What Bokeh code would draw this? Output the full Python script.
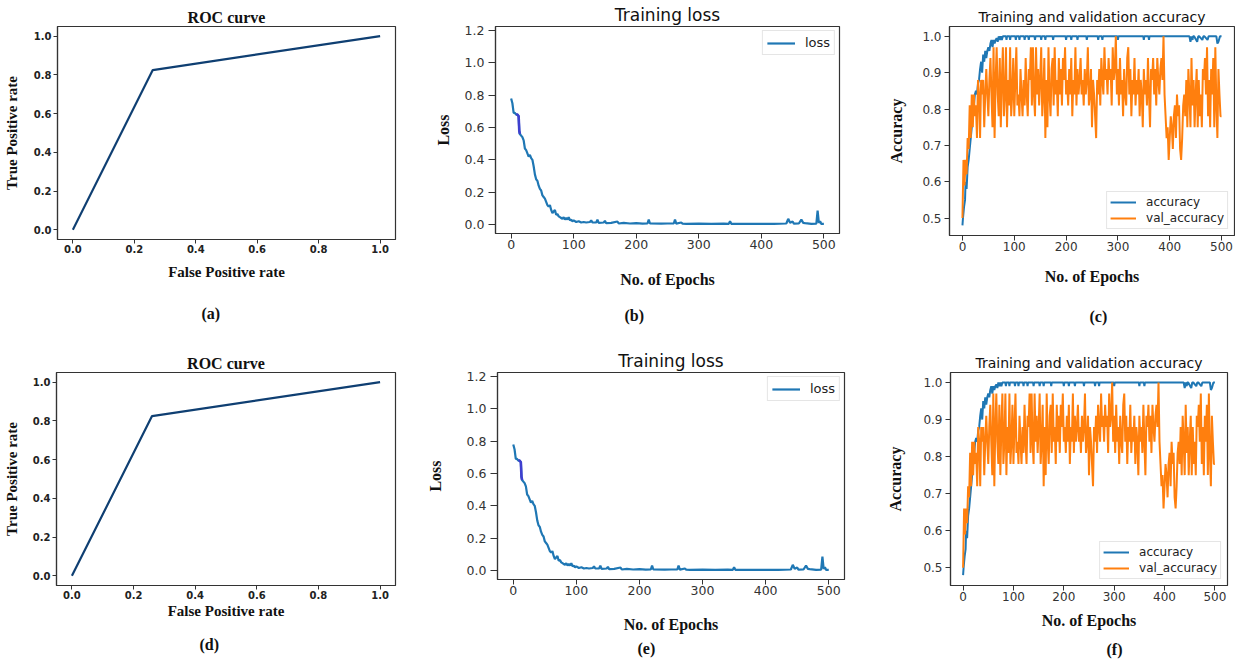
from bokeh.plotting import figure
from bokeh.layouts import row, column
from bokeh.models import Range1d, FixedTicker, NumeralTickFormatter, Title, Legend
from bokeh.embed import file_html
from bokeh.resources import INLINE

# ---------------- data ----------------
roc_fpr = [0.0, 0.26, 1.0]
roc_tpr = [0.0, 0.825, 1.0]

loss_epochs = [0, 2, 4, 6, 8, 10, 12, 13, 14, 16, 18, 20, 22, 24, 26, 28, 30, 32, 34, 36,
               38, 40, 42, 44, 46, 48, 50, 52, 54, 56, 58, 60, 62, 64, 66, 68, 70, 72, 74, 76,
               78, 80, 82, 84, 86, 88, 90, 92, 94, 96, 98, 100, 104, 108, 112, 116, 120, 126, 128, 130,
               136, 138, 140, 148, 150, 152, 160, 170, 172, 180, 190, 200, 210, 218, 220, 222, 240, 250, 260, 262,
               264, 272, 274, 280, 300, 320, 340, 348, 350, 352, 380, 400, 420, 440, 443, 446, 450, 452, 460, 464,
               467, 470, 480, 488, 490, 492, 494, 496, 500]
loss_values = [0.78, 0.75, 0.69, 0.69, 0.68, 0.68, 0.67, 0.58, 0.56, 0.55, 0.54, 0.52, 0.47, 0.46, 0.44, 0.42, 0.43, 0.41, 0.40, 0.36,
               0.31, 0.28, 0.27, 0.24, 0.22, 0.21, 0.18, 0.17, 0.16, 0.14, 0.12, 0.11, 0.12, 0.09, 0.07, 0.08, 0.09, 0.06, 0.065, 0.05,
               0.045, 0.04, 0.035, 0.045, 0.03, 0.04, 0.03, 0.045, 0.025, 0.03, 0.02, 0.025, 0.015, 0.02, 0.012, 0.015, 0.012, 0.015, 0.025, 0.012,
               0.012, 0.03, 0.01, 0.012, 0.022, 0.008, 0.01, 0.018, 0.006, 0.01, 0.006, 0.008, 0.005, 0.006, 0.03, 0.006, 0.005, 0.006, 0.006, 0.03,
               0.005, 0.012, 0.005, 0.004, 0.005, 0.004, 0.005, 0.004, 0.02, 0.004, 0.004, 0.004, 0.004, 0.006, 0.035, 0.01, 0.018, 0.005, 0.006, 0.03,
               0.01, 0.008, 0.004, 0.005, 0.085, 0.01, 0.02, 0.003, 0.003]
loss_highlight = (8, 14)  # epochs drawn in the purple tint of the original

acc_epochs = [0, 1, 3, 5, 6, 8, 10, 12, 14, 16, 18, 20, 22, 24, 26, 28, 30, 32, 34, 36,
              38, 40, 42, 44, 46, 48, 50, 52, 54, 56, 58, 60, 62, 64, 66, 68, 70, 72, 74, 76,
              78, 84, 85, 86, 91, 92, 93, 102, 103, 104, 109, 110, 111, 119, 120, 121, 127, 128, 129, 139,
              140, 141, 151, 152, 153, 159, 160, 161, 174, 175, 176, 199, 200, 201, 209, 210, 211, 221, 222, 223,
              239, 240, 241, 261, 262, 263, 269, 270, 271, 299, 300, 301, 349, 350, 351, 359, 360, 361, 438, 440,
              442, 444, 445, 447, 453, 455, 457, 463, 465, 467, 473, 475, 477, 490, 492, 494, 495, 497, 500]
acc_values = [0.48, 0.50, 0.53, 0.55, 0.60, 0.58, 0.64, 0.66, 0.69, 0.72, 0.75, 0.78, 0.81, 0.84, 0.85, 0.84, 0.87, 0.88, 0.91, 0.93,
              0.90, 0.95, 0.93, 0.96, 0.94, 0.96, 0.97, 0.96, 0.98, 0.99, 0.97, 0.99, 0.98, 0.99, 0.995, 0.985, 1.0, 0.99, 1.0, 0.99,
              1.0, 1.0, 0.99, 1.0, 1.0, 0.99, 1.0, 1.0, 0.99, 1.0, 1.0, 0.99, 1.0, 1.0, 0.99, 1.0, 1.0, 0.99, 1.0, 1.0,
              0.99, 1.0, 1.0, 0.99, 1.0, 1.0, 0.99, 1.0, 1.0, 0.99, 1.0, 1.0, 0.99, 1.0, 1.0, 0.99, 1.0, 1.0, 0.99, 1.0,
              1.0, 0.99, 1.0, 1.0, 0.99, 1.0, 1.0, 0.99, 1.0, 1.0, 0.99, 1.0, 1.0, 0.99, 1.0, 1.0, 0.99, 1.0, 1.0, 0.985,
              1.0, 0.99, 1.0, 1.0, 0.985, 1.0, 1.0, 0.99, 1.0, 1.0, 0.99, 1.0, 1.0, 1.0, 0.98, 0.985, 0.99, 1.0, 1.0]

val_epochs = list(range(0, 501, 2))
val_values = [
    0.50, 0.66, 0.59, 0.66, 0.62, 0.72, 0.69, 0.81, 0.72, 0.84,
    0.75, 0.84, 0.78, 0.81, 0.72, 0.88, 0.84, 0.72, 0.88, 0.84,
    0.88, 0.75, 0.84, 0.91, 0.84, 0.78, 0.88, 0.94, 0.84, 0.75,
    0.97, 0.72, 0.88, 0.97, 0.84, 0.78, 0.94, 0.75, 0.88, 0.97,
    0.78, 0.84, 0.97, 0.75, 0.88, 0.81, 0.97, 0.78, 0.84, 0.94,
    0.78, 0.88, 0.97, 0.81, 0.84, 0.78, 0.91, 0.84, 0.78, 0.88,
    0.81, 0.94, 0.84, 0.78, 0.91, 0.88, 0.97, 0.81, 0.97, 0.84,
    0.78, 0.97, 0.84, 0.91, 0.81, 0.88, 0.97, 0.78, 0.84, 0.94,
    0.72, 0.88, 0.75, 0.97, 0.84, 0.78, 0.91, 0.94, 0.81, 0.97,
    0.84, 0.88, 0.78, 0.94, 0.84, 0.91, 0.81, 0.94, 0.88, 0.97,
    0.84, 0.88, 0.81, 0.91, 0.84, 0.94, 0.78, 0.88, 0.84, 0.97,
    0.81, 0.91, 0.84, 0.88, 0.94, 0.84, 0.88, 0.81, 0.91, 0.84,
    0.88, 0.97, 0.81, 0.84, 0.91, 0.75, 0.88, 0.84, 0.78, 0.72,
    0.88, 0.84, 0.91, 0.81, 0.94, 0.88, 0.84, 0.97, 0.88, 0.91,
    0.84, 0.94, 0.88, 0.91, 0.81, 0.97, 0.88, 0.91, 1.00, 0.84,
    0.91, 0.81, 0.94, 0.84, 0.88, 0.78, 0.91, 0.84, 0.81, 0.94,
    0.97, 0.84, 0.91, 0.78, 0.88, 0.84, 0.94, 0.81, 0.88, 0.84,
    0.91, 0.78, 0.88, 0.84, 0.75, 0.91, 0.84, 0.88, 0.81, 0.94,
    0.84, 0.75, 0.91, 0.88, 0.94, 0.84, 0.91, 0.81, 0.94, 0.88,
    0.84, 0.91, 0.94, 0.88, 1.00, 0.84, 0.78, 0.72, 0.75, 0.66,
    0.72, 0.78, 0.75, 0.69, 0.78, 0.81, 0.72, 0.84, 0.78, 0.81,
    0.69, 0.66, 0.72, 0.81, 0.84, 0.78, 0.88, 0.75, 0.91, 0.84,
    0.75, 0.94, 0.81, 0.88, 0.75, 0.84, 0.91, 0.75, 0.88, 0.78,
    0.84, 0.75, 0.91, 0.88, 0.94, 0.84, 0.97, 0.78, 0.88, 0.75,
    0.91, 0.84, 0.94, 0.75, 0.97, 0.81, 0.72, 0.91, 0.84, 0.78,
    0.78]

unit_ticks = [0.0, 0.2, 0.4, 0.6, 0.8, 1.0]
loss_ticks = [0.0, 0.2, 0.4, 0.6, 0.8, 1.0, 1.2]
acc_ticks = [0.5, 0.6, 0.7, 0.8, 0.9, 1.0]
epoch_ticks = [0, 100, 200, 300, 400, 500]

SERIF = "Liberation Serif"
SANS = "DejaVu Sans"
BLUE = "#1f77b4"
ORANGE = "#ff7f0e"
ROC_COLOR = "#0f3f72"
PURPLE = "#3f3fcf"


def base_fig(fw, fh, bl, br, bt, bb, xr, yr, xticks, yticks, xfmt, yfmt,
             title, title_font, title_size, title_style, title_standoff,
             xlabel, ylabel, label_size, xl_standoff, yl_standoff,
             tick_size, tick_style, tick_color, x_tick_out, y_tick_out,
             x_lab_standoff, y_lab_standoff,
             caption, cap_standoff, cap_offset):
    p = figure(frame_width=fw, frame_height=fh, min_border_left=bl, min_border_right=br,
               min_border_top=bt, min_border_bottom=bb,
               x_range=Range1d(*xr), y_range=Range1d(*yr),
               output_backend="svg", toolbar_location=None)
    p.title.text = title
    p.title.text_font = title_font
    p.title.text_font_size = title_size
    p.title.text_font_style = title_style
    p.title.align = "center"
    p.title.standoff = title_standoff
    p.title.text_color = "#111111"
    p.xgrid.visible = False
    p.ygrid.visible = False
    p.outline_line_color = "#333333"
    p.outline_line_width = 1.2
    p.background_fill_color = "white"
    p.border_fill_color = "white"
    for ax, ticks, fmt, lab, lst, tout, labst in (
            (p.xaxis[0], xticks, xfmt, xlabel, xl_standoff, x_tick_out, x_lab_standoff),
            (p.yaxis[0], yticks, yfmt, ylabel, yl_standoff, y_tick_out, y_lab_standoff)):
        ax.ticker = FixedTicker(ticks=ticks)
        ax.formatter = NumeralTickFormatter(format=fmt)
        ax.minor_tick_line_color = None
        ax.major_tick_in = 0
        ax.major_tick_out = tout
        ax.major_tick_line_color = "#333333"
        ax.axis_line_color = "#333333"
        ax.axis_line_width = 1.2
        ax.major_label_text_font = SANS
        ax.major_label_text_font_size = tick_size
        ax.major_label_text_font_style = tick_style
        ax.major_label_text_color = tick_color
        ax.major_label_standoff = labst
        ax.axis_label = lab
        ax.axis_label_text_font = SERIF
        ax.axis_label_text_font_style = "bold"
        ax.axis_label_text_font_size = label_size
        ax.axis_label_text_color = "#111111"
        ax.axis_label_standoff = lst
    cap = Title(text=caption, align="left", text_font=SERIF, text_font_style="bold",
                text_font_size="16px", text_color="#111111", standoff=cap_standoff,
                offset=cap_offset)
    p.add_layout(cap, "below")
    return p


def roc_panel(caption, bl, br, bt, bb, fw, fh, xl_st, yl_st, cap_st, cap_off):
    p = base_fig(fw, fh, bl, br, bt, bb, (-0.05, 1.05), (-0.05, 1.05), unit_ticks, unit_ticks,
                 "0.0", "0.0", "ROC curve", SERIF, "16px", "bold", 2,
                 "False Positive rate", "True Positive rate", "15px", xl_st, yl_st,
                 "10px", "bold", "#222222", 4, 4, 1, 2, caption, cap_st, cap_off)
    p.line(roc_fpr, roc_tpr, line_color=ROC_COLOR, line_width=2.2)
    return p


def loss_panel(caption, bl, br, bt, bb, fw, fh, xl_st, yl_st, cap_st, cap_off):
    p = base_fig(fw, fh, bl, br, bt, bb, (-25, 525), (-0.056, 1.225), epoch_ticks, loss_ticks,
                 "0", "0.0", "Training loss", SANS, "17px", "normal", 4,
                 "No. of Epochs", "Loss", "16px", xl_st, yl_st,
                 "12.5px", "normal", "#333333", 5, 7, 1, 4, caption, cap_st, cap_off)
    r = p.line(loss_epochs, loss_values, line_color=BLUE, line_width=2.2)
    hx = [e for e in loss_epochs if loss_highlight[0] <= e <= loss_highlight[1]]
    hy = [v for e, v in zip(loss_epochs, loss_values) if loss_highlight[0] <= e <= loss_highlight[1]]
    p.line(hx, hy, line_color=PURPLE, line_width=2.6)
    leg = Legend(items=[("loss", [r])], location="top_right")
    leg.label_text_font = SANS
    leg.label_text_font_size = "13px"
    leg.label_text_color = "#222222"
    leg.glyph_width = 28
    leg.glyph_height = 14
    leg.label_standoff = 10
    leg.padding = 4
    leg.margin = 4
    leg.spacing = 0
    leg.border_line_color = "#cccccc"
    leg.border_line_width = 1
    leg.background_fill_alpha = 0.9
    p.add_layout(leg)
    return p


def acc_panel(caption, bl, br, bt, bb, fw, fh, xl_st, yl_st, cap_st, cap_off):
    p = base_fig(fw, fh, bl, br, bt, bb, (-25, 525), (0.452, 1.027), epoch_ticks, acc_ticks,
                 "0", "0.0", "Training and validation accuracy", SANS, "14px", "normal", 4,
                 "No. of Epochs", "Accuracy", "16px", xl_st, yl_st,
                 "12px", "normal", "#333333", 5, 5, 1, 3, caption, cap_st, cap_off)
    r1 = p.line(acc_epochs, acc_values, line_color=BLUE, line_width=2)
    r2 = p.line(val_epochs, val_values, line_color=ORANGE, line_width=2)
    leg = Legend(items=[("accuracy", [r1]), ("val_accuracy", [r2])], location="bottom_right")
    leg.label_text_font = SANS
    leg.label_text_font_size = "12px"
    leg.label_text_color = "#222222"
    leg.glyph_width = 26
    leg.glyph_height = 14
    leg.label_standoff = 10
    leg.padding = 3
    leg.margin = 6
    leg.spacing = 2
    leg.border_line_color = "#cccccc"
    leg.border_line_width = 1
    leg.background_fill_alpha = 0.9
    p.add_layout(leg)
    return p


pa = roc_panel("(a)", 50, 29, 16, 103, 338, 213, 8, 11, 41, 144)
pb = loss_panel("(b)", 71, 3, 20, 105, 344, 207, 19, 10, 29, 129)
pc = acc_panel("(c)", 107, 1, 17, 106, 285, 209, 14, 14, 36, 140)
pd = roc_panel("(d)", 55, 23, 24, 78, 339, 213, 1, 10, 24, 143)
pe = loss_panel("(e)", 79, 2, 34, 74, 347, 207, 18, 20, 5, 140)
pf = acc_panel("(f)", 104, 2, 33, 69, 277, 213, 8, 16, 15, 156)

layout = column(row(pa, pb, pc, spacing=0), row(pd, pe, pf, spacing=0), spacing=0)

with open("out.html", "w") as fh:
    fh.write(file_html(layout, INLINE))
